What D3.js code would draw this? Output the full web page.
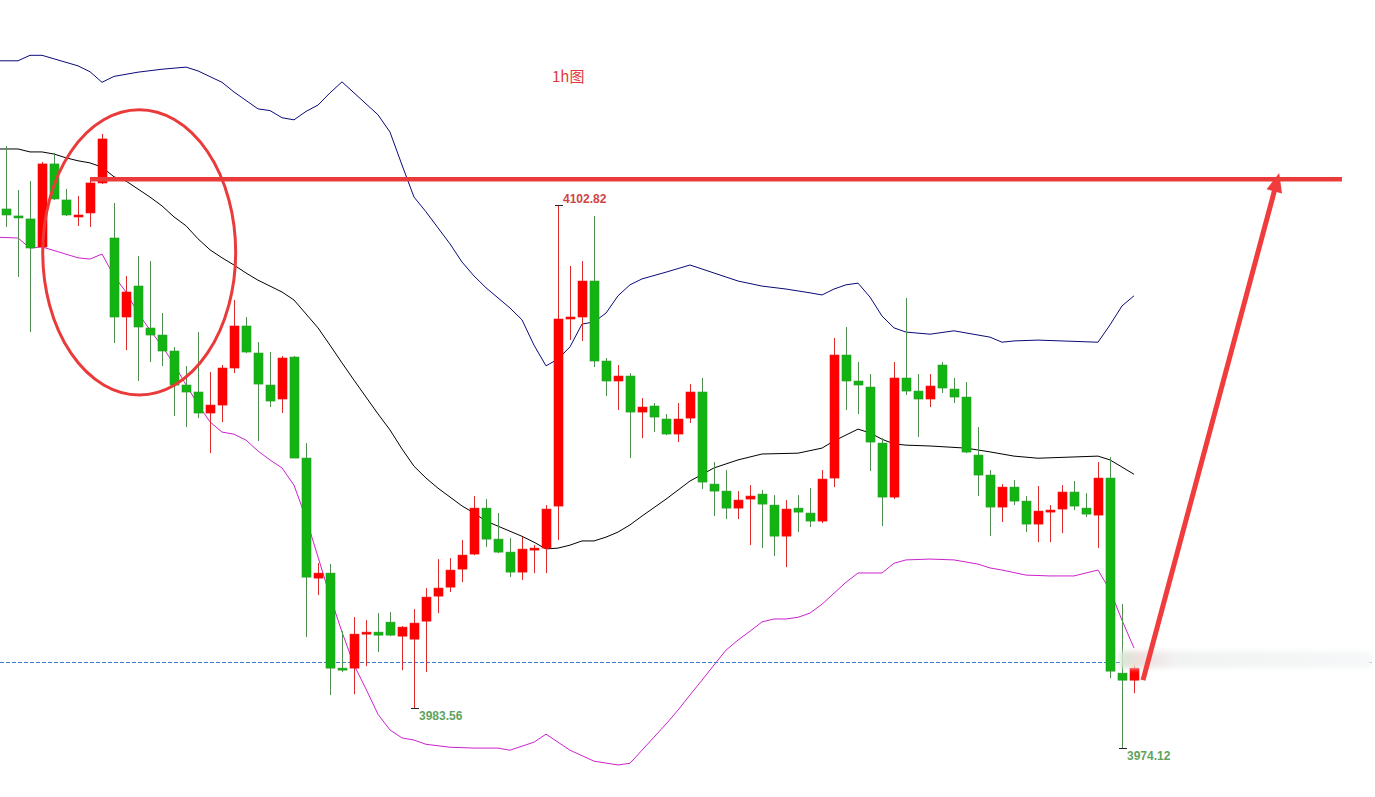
<!DOCTYPE html>
<html>
<head>
<meta charset="utf-8">
<script src="https://cdn.jsdelivr.net/npm/d3@7"></script>
<style>
  html, body { margin: 0; padding: 0; background: #fff; }
  svg { display: block; }
</style>
</head>
<body>
<svg id="chart"></svg>
<script>

var width = 1375, height = 797;

// 1h candles, red = up, green = down
var open = [4101.88,4100.22,4099.51,4092.87,4112.55,4104.01,4100.22,4100.93,4108.04,4095.00,
  4076.27,4083.62,4073.66,4072.00,4068.21,4060.15,4058.49,4053.51,4055.40,4064.18,
  4074.14,4067.73,4060.15,4056.83,4066.78,4042.84,4014.39,4015.57,3993.05,3993.05,
  4001.35,4001.58,4003.95,4000.63,3999.92,4004.19,4010.12,4012.25,4016.52,4020.08,
  4030.98,4023.63,4020.55,4015.81,4021.26,4021.50,4031.46,4075.80,4076.27,4084.80,
  4065.84,4061.10,4062.28,4053.74,4055.17,4052.09,4048.53,4052.32,4058.49,4036.67,
  4035.01,4030.98,4033.12,4034.30,4031.69,4024.34,4030.98,4029.80,4027.90,4038.10,
  4067.26,4061.10,4059.67,4046.39,4033.59,4061.81,4058.72,4056.83,4064.89,4059.20,
  4057.30,4043.55,4038.81,4031.22,4035.96,4032.64,4027.19,4030.27,4030.75,4034.78,
  4030.98,4029.32,4038.10,3991.86,3990.20];
var high = [4116.81,4106.38,4108.51,4113.02,4115.15,4106.62,4104.96,4108.75,4119.66,4103.30,
  4085.99,4090.73,4089.55,4077.22,4069.16,4064.65,4072.71,4063.23,4064.89,4080.30,
  4076.27,4070.34,4067.97,4067.02,4067.02,4046.39,4017.94,4017.71,4001.82,4005.14,
  4004.43,4006.09,4006.32,4003.01,4007.04,4012.02,4018.89,4019.13,4023.40,4033.83,
  4033.12,4029.80,4023.87,4024.11,4022.21,4031.69,4102.82,4088.36,4089.55,4100.22,
  4066.55,4064.89,4062.99,4057.06,4055.88,4053.27,4055.88,4060.38,4061.81,4041.89,
  4039.99,4035.01,4036.44,4035.25,4034.07,4032.88,4034.07,4035.73,4039.99,4071.29,
  4073.90,4065.60,4062.75,4047.58,4065.60,4080.77,4062.75,4062.75,4065.60,4061.81,
  4060.86,4050.19,4039.99,4036.67,4037.62,4033.83,4036.20,4031.69,4036.44,4037.38,
  4034.54,4041.89,4043.08,4008.22,3994.94];
var low = [4097.61,4085.75,4072.71,4092.63,4104.01,4100.22,4097.85,4097.61,4107.80,4070.10,
  4068.44,4061.10,4065.60,4064.65,4052.80,4050.19,4052.32,4044.02,4051.37,4062.99,
  4067.73,4046.87,4054.93,4053.51,4042.84,4000.40,4010.36,3986.65,3992.10,3986.88,
  3993.52,3996.84,4000.63,3992.57,3983.56,3992.10,4006.09,4011.07,4013.44,4019.84,
  4021.74,4020.31,4014.62,4013.91,4015.57,4015.57,4023.40,4070.82,4070.58,4064.41,
  4057.54,4054.22,4042.84,4047.58,4049.00,4048.29,4046.63,4051.14,4035.49,4029.09,
  4028.38,4028.38,4022.21,4021.50,4019.60,4016.99,4025.29,4026.48,4027.43,4035.96,
  4054.22,4053.27,4039.76,4026.72,4033.12,4057.78,4047.82,4054.93,4058.25,4055.88,
  4044.02,4033.83,4024.34,4027.66,4031.69,4025.29,4022.92,4022.92,4025.06,4030.51,
  4028.85,4021.50,3990.68,3974.12,3987.12];
var close = [4100.45,4099.98,4092.63,4112.55,4104.25,4100.45,4100.45,4108.04,4118.47,4076.27,
  4082.20,4073.90,4072.00,4068.21,4060.15,4058.49,4053.51,4055.40,4064.18,4074.14,
  4067.97,4060.38,4056.35,4066.55,4042.84,4014.62,4015.57,3993.05,3992.81,4001.11,
  4001.58,4000.87,4000.87,4002.77,4003.72,4009.88,4012.02,4016.28,4019.84,4030.98,
  4023.63,4020.55,4015.81,4021.26,4021.50,4030.75,4075.80,4076.27,4084.80,4065.84,
  4061.10,4062.28,4053.74,4054.93,4052.56,4048.53,4052.09,4058.49,4037.15,4035.01,
  4030.98,4032.88,4033.83,4031.93,4024.34,4030.75,4030.03,4027.90,4037.86,4067.26,
  4061.10,4060.15,4046.63,4033.59,4061.81,4058.72,4056.83,4059.91,4059.44,4057.30,
  4044.26,4038.81,4031.22,4035.96,4032.64,4027.19,4030.27,4030.51,4034.78,4031.46,
  4029.56,4038.10,3992.34,3990.20,3993.05];

// bollinger bands, [candle index, price]
var bollUpper = [[-1,4137.0],[1,4137.0],[2,4138.3],[3,4138.3],[6,4135.8],[7,4134.4],[8,4131.9],[9,4133.3],
  [11,4134.3],[13,4135.0],[15,4135.5],[16,4134.6],[18,4131.9],[19,4129.6],[21,4125.6],[22,4125.2],
  [23,4123.5],[24,4123.0],[25,4125.0],[26,4126.5],[27,4129.4],[28,4132.0],[30,4126.8],[31,4124.2],
  [32,4120.1],[33,4112.3],[34,4104.7],[35,4101.2],[36,4097.4],[37,4093.6],[38,4089.3],[39,4086.0],
  [40,4083.2],[41,4080.8],[42,4078.4],[43,4075.6],[44,4069.6],[45,4064.7],[46,4066.3],[47,4069.2],
  [48,4074.6],[49,4075.1],[50,4077.2],[51,4081.3],[52,4083.9],[53,4085.3],[55,4086.9],[57,4088.6],
  [59,4086.7],[61,4084.8],[63,4083.6],[65,4082.9],[67,4082.0],[68,4081.5],[69,4082.9],[70,4083.9],
  [71,4084.3],[72,4081.0],[73,4076.5],[74,4073.7],[75,4072.7],[77,4072.2],[79,4073.0],[81,4072.0],
  [82,4071.5],[83,4070.3],[84,4070.6],[86,4070.8],[91,4070.3],[92,4074.4],[93,4078.9],[94,4081.3]];
var bollMid = [[-1,4116.1],[1,4116.1],[2,4115.4],[3,4115.4],[4,4114.9],[5,4114.0],[6,4113.3],[7,4112.8],
  [8,4111.8],[9,4109.5],[10,4108.5],[11,4106.6],[12,4104.7],[13,4102.6],[14,4100.0],[15,4097.9],
  [16,4094.8],[17,4092.2],[18,4090.3],[19,4088.6],[20,4086.7],[21,4085.0],[22,4083.6],[23,4082.2],
  [24,4080.3],[25,4077.0],[26,4073.7],[27,4069.6],[28,4065.4],[29,4061.3],[30,4057.3],[31,4053.3],
  [32,4049.5],[33,4045.0],[34,4040.9],[35,4038.1],[36,4035.7],[37,4033.6],[38,4031.5],[39,4029.8],
  [40,4027.9],[41,4026.7],[42,4025.5],[43,4024.3],[44,4022.9],[45,4021.3],[46,4021.5],[47,4022.2],
  [48,4023.2],[49,4023.2],[50,4024.1],[51,4025.3],[52,4027.0],[53,4029.1],[55,4033.1],[57,4037.4],
  [59,4040.5],[61,4042.4],[63,4043.8],[66,4044.0],[68,4045.2],[69,4046.9],[70,4048.3],[71,4049.7],
  [72,4048.8],[73,4047.3],[74,4046.2],[75,4045.9],[77,4045.7],[80,4045.2],[82,4044.3],[83,4043.8],
  [84,4043.3],[86,4042.8],[91,4043.3],[92,4042.4],[93,4040.7],[94,4039.0]];
var bollLower = [[-1,4095.2],[1,4095.0],[2,4092.6],[3,4092.9],[6,4090.3],[7,4090.0],[8,4091.2],[9,4086.0],
  [10,4082.2],[11,4077.2],[12,4073.2],[13,4069.4],[14,4065.1],[15,4060.2],[16,4055.6],[17,4051.4],
  [18,4049.0],[19,4048.5],[20,4047.1],[21,4044.5],[22,4042.4],[23,4040.5],[24,4036.4],[25,4028.6],
  [26,4019.4],[27,4010.1],[28,4001.6],[29,3993.8],[30,3988.1],[31,3982.1],[32,3978.4],[33,3976.5],
  [34,3976.0],[35,3975.0],[37,3974.3],[39,3974.1],[41,3974.1],[42,3973.6],[44,3975.5],[45,3977.4],
  [47,3973.6],[49,3971.0],[51,3970.1],[52,3970.5],[53,3973.6],[54,3976.7],[55,3979.8],[56,3983.1],
  [57,3986.7],[58,3990.2],[59,3993.8],[60,3997.3],[61,3999.7],[62,4001.8],[63,4004.0],[64,4004.7],
  [65,4004.7],[66,4005.1],[67,4006.1],[68,4008.2],[69,4010.8],[70,4013.4],[71,4015.6],[72,4015.6],
  [73,4015.6],[74,4017.9],[75,4018.7],[77,4018.9],[79,4018.7],[80,4018.2],[81,4017.7],[82,4016.8],
  [83,4016.3],[85,4015.1],[87,4014.9],[89,4014.9],[91,4016.3],[92,4011.5],[93,4004.4],[94,3997.8]];

// marked extremes [candle index, price, 'high'|'low']
var marks = [[46,4102.82,'high'],[34,3983.56,'low'],[93,3974.12,'low']];

var title = '1h图';
var lastPrice = 3994.5;
var resistance = 4108.9, resistanceFrom = 7, resistanceTo = 111.33;
var arrowFrom = [94.75, 3990.2], arrowTo = [106.1, 4110.4];
var circle = {idx: 11.1, price: 4091.6, didx: 8.04, dprice: 33.8};

var candles = open.map(function(o, i){
  return {i: i, o: o, h: high[i], l: low[i], c: close[i]};
});

var x = d3.scaleLinear().domain([0, 94]).range([6, 1134]);
var y = d3.scaleLinear().domain([3974.12, 4102.82]).range([748, 205]);

var svg = d3.select('#chart').attr('width', width).attr('height', height);

var defs = svg.append('defs');
defs.append('filter').attr('id', 'blur')
  .attr('x', '-10%').attr('y', '-50%').attr('width', '120%').attr('height', '200%')
  .append('feGaussianBlur').attr('stdDeviation', 2.5);
var grad = defs.append('linearGradient').attr('id', 'tagfade');
grad.append('stop').attr('offset', '0%').attr('stop-color', '#d6e8d3');
grad.append('stop').attr('offset', '8%').attr('stop-color', '#efdfdf');
grad.append('stop').attr('offset', '22%').attr('stop-color', '#f1f3f2');
grad.append('stop').attr('offset', '100%').attr('stop-color', '#f6f8f9');

var line = d3.line().x(d => x(d[0])).y(d => y(d[1]));

svg.append('path').datum(bollUpper).attr('d', line)
  .attr('fill', 'none').attr('stroke', '#0a0a78').attr('stroke-width', 1);
svg.append('path').datum(bollMid).attr('d', line)
  .attr('fill', 'none').attr('stroke', '#000').attr('stroke-width', 1);
svg.append('path').datum(bollLower).attr('d', line)
  .attr('fill', 'none').attr('stroke', '#cc22cc').attr('stroke-width', 1);

// current price line
svg.append('line')
  .attr('x1', 0).attr('x2', 1372)
  .attr('y1', Math.round(y(lastPrice)) + 0.5).attr('y2', Math.round(y(lastPrice)) + 0.5)
  .attr('stroke', '#3f7fcf').attr('stroke-width', 1).attr('stroke-dasharray', '4,2');

var up = d => d.c >= d.o;

var g = svg.append('g').classed('candles', true);
var cg = g.selectAll('g').data(candles).join('g');
cg.append('line')
  .attr('x1', d => Math.round(x(d.i)) + 0.5).attr('x2', d => Math.round(x(d.i)) + 0.5)
  .attr('y1', d => y(d.h)).attr('y2', d => y(d.l))
  .attr('stroke', d => up(d) ? '#e02a2a' : '#4f8f4f').attr('stroke-width', 1);
cg.append('rect')
  .attr('x', d => Math.round(x(d.i)) - 4)
  .attr('width', 9)
  .attr('y', d => y(Math.max(d.o, d.c)))
  .attr('height', d => Math.max(2, y(Math.min(d.o, d.c)) - y(Math.max(d.o, d.c))))
  .attr('fill', d => up(d) ? '#ff0000' : '#11b411')
  .attr('stroke', d => up(d) ? '#e61010' : '#2a9a2a').attr('stroke-width', 0.6);

// high / low labels
var mg = svg.selectAll('g.mark').data(marks).join('g').classed('mark', true);
mg.append('line')
  .attr('x1', d => Math.round(x(d[0])) - 3).attr('x2', d => Math.round(x(d[0])) + 5)
  .attr('y1', d => Math.round(y(d[1])) + 0.5).attr('y2', d => Math.round(y(d[1])) + 0.5)
  .attr('stroke', '#222').attr('stroke-width', 1);
mg.append('text')
  .attr('x', d => Math.round(x(d[0])) + 5)
  .attr('y', d => d[2] == 'high' ? y(d[1]) - 2 : y(d[1]) + 12)
  .attr('font-family', 'Liberation Sans, Arial, sans-serif')
  .attr('font-size', 12).attr('font-weight', 'bold')
  .attr('fill', d => d[2] == 'high' ? '#cf4545' : '#5fa35f')
  .text(d => d[1].toFixed(2));

// blurred price tag at right edge
svg.append('rect')
  .attr('x', 1120).attr('y', y(lastPrice) - 11)
  .attr('width', 252).attr('height', 17)
  .attr('fill', 'url(#tagfade)').attr('filter', 'url(#blur)');

// annotations
svg.append('ellipse')
  .attr('cx', x(circle.idx)).attr('cy', y(circle.price))
  .attr('rx', x(circle.idx + circle.didx) - x(circle.idx))
  .attr('ry', y(circle.price - circle.dprice) - y(circle.price))
  .attr('fill', 'none').attr('stroke', '#ea3a3a').attr('stroke-width', 3);

svg.append('line')
  .attr('x1', x(resistanceFrom)).attr('x2', x(resistanceTo))
  .attr('y1', y(resistance)).attr('y2', y(resistance))
  .attr('stroke', '#ea3a3a').attr('stroke-width', 4.5);

var sx = x(arrowFrom[0]), sy = y(arrowFrom[1]);
var tx = x(arrowTo[0]), ty = y(arrowTo[1]);
var len = Math.hypot(tx - sx, ty - sy);
var ux = (tx - sx) / len, uy = (ty - sy) / len;
var bx = tx - 19 * ux, by = ty - 19 * uy;
svg.append('line')
  .attr('x1', sx).attr('y1', sy).attr('x2', bx + 2 * ux).attr('y2', by + 2 * uy)
  .attr('stroke', '#f03c3c').attr('stroke-width', 5);
svg.append('path')
  .attr('d', 'M' + tx + ',' + ty +
             'L' + (bx - 8 * uy) + ',' + (by + 8 * ux) +
             'L' + (bx + 8 * uy) + ',' + (by - 8 * ux) + 'Z')
  .attr('fill', '#f03c3c');

svg.append('text')
  .attr('x', 552).attr('y', 82)
  .attr('font-family', 'Noto Sans CJK SC, sans-serif')
  .attr('font-size', 15)
  .attr('fill', '#e3373b')
  .text(title);

</script>
</body>
</html>
